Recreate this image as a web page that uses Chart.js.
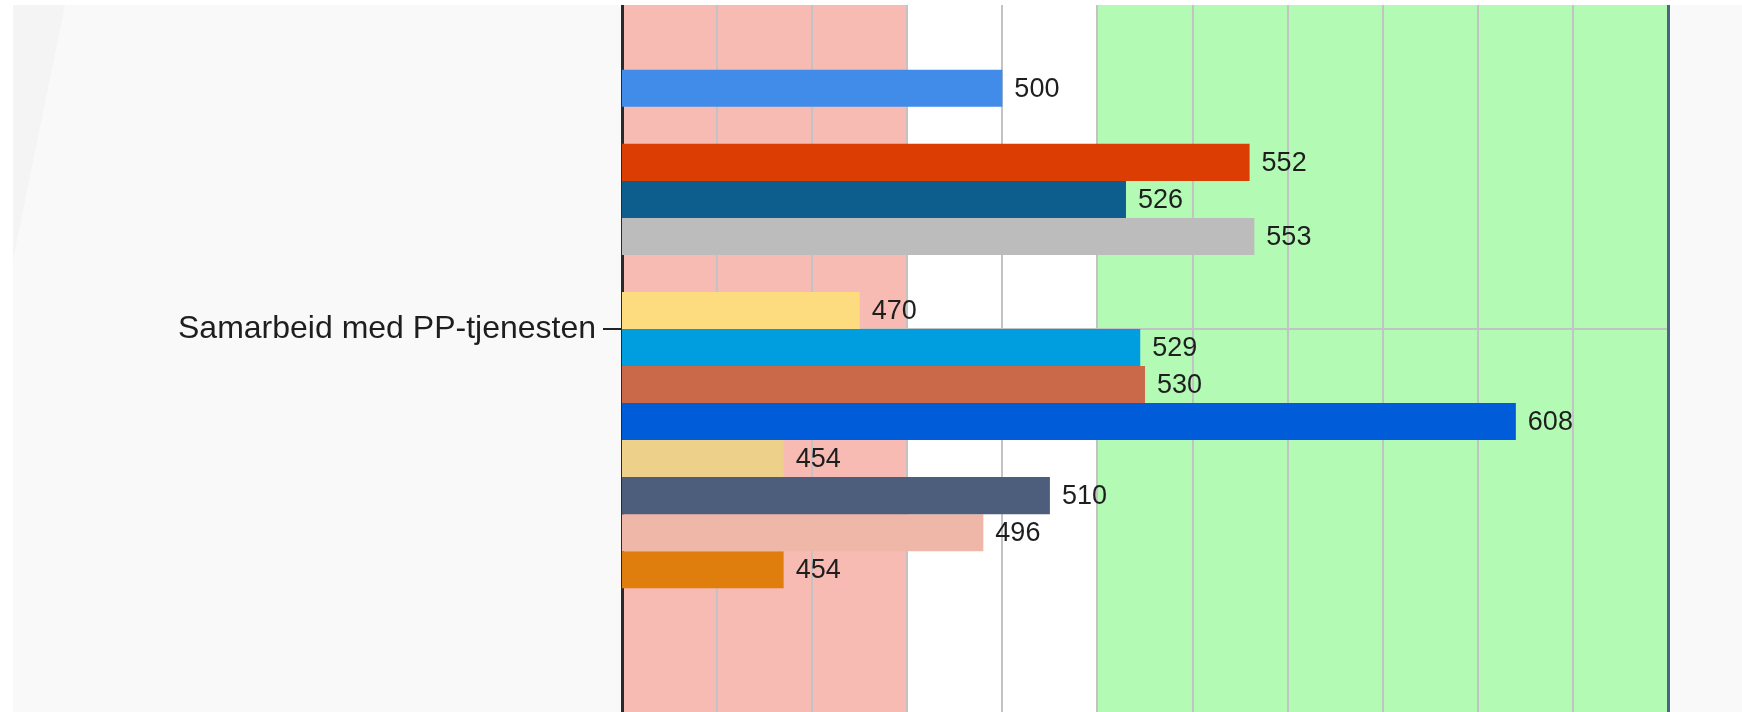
<!DOCTYPE html>
<html>
<head>
<meta charset="utf-8">
<script src="https://cdn.jsdelivr.net/npm/chart.js@4.4.1/dist/chart.umd.min.js"></script>
<style>
html, body { margin:0; padding:0; background:#ffffff; overflow:hidden; width:1742px; height:712px; }
#wrap { position:absolute; left:13px; top:5px; width:1729px; height:1296px; background:#f9f9f9; }
</style>
</head>
<body>
<div id="wrap"><canvas id="c"></canvas></div>
<script>
// ---- data ----
const categories = ['Samarbeid med PP-tjenesten', ''];
const seriesNames = ['Serie 1', 'Tom 1', 'Serie 2', 'Serie 3', 'Serie 4', 'Tom 2', 'Serie 5', 'Serie 6',
                     'Serie 7', 'Serie 8', 'Serie 9', 'Serie 10', 'Serie 11', 'Serie 12'];
const seriesValues = [500, null, 552, 526, 553, null, 470, 529, 530, 608, 454, 510, 496, 454];
const seriesColors = ['#418be9', '#000000', '#dc3d02', '#0e5e8d', '#bcbcbc', '#000000', '#fddc7f', '#009ddf',
                      '#c9694a', '#005cd9', '#edd08a', '#4d5e7d', '#eeb7a8', '#df7e0d'];
const xMin = 420, xMax = 640, xStep = 20;
const bandLimits = [420, 480, 520, 640];
const bandColors = ['#f8bbb3', '#ffffff', '#b3fbb5'];

const datasets = seriesNames.map((name, i) => ({
  label: name,
  data: categories.map((c, j) => j === 0 ? seriesValues[i] : null),
  backgroundColor: seriesColors[i],
  borderWidth: 0,
  barPercentage: 1.0,
  categoryPercentage: 0.8
}));

const bgPlugin = {
  id: 'bg',
  beforeDraw(chart) {
    const ctx = chart.ctx, a = chart.chartArea, x = chart.scales.x;
    ctx.save();
    // subtle diagonal shade in the panel
    ctx.fillStyle = '#f4f4f4';
    ctx.beginPath();
    ctx.moveTo(0, 0); ctx.lineTo(52, 0); ctx.lineTo(0, 255); ctx.closePath(); ctx.fill();
    for (let i = 0; i < bandColors.length; i++) {
      const x0 = x.getPixelForValue(bandLimits[i]);
      const x1 = x.getPixelForValue(bandLimits[i + 1]);
      ctx.fillStyle = bandColors[i];
      ctx.fillRect(x0, a.top, x1 - x0, a.bottom - a.top);
    }
    ctx.restore();
  },
  afterDatasetsDraw(chart) {
    const ctx = chart.ctx, a = chart.chartArea;
    ctx.save();
    // right frame line
    ctx.strokeStyle = '#4d6585';
    ctx.lineWidth = 3;
    ctx.beginPath();
    ctx.moveTo(a.right + 0.5, a.top); ctx.lineTo(a.right + 0.5, a.bottom); ctx.stroke();
    // value labels
    ctx.fillStyle = '#1e1e1e';
    ctx.font = '27px "Liberation Sans", Arial, sans-serif';
    ctx.textBaseline = 'middle';
    ctx.textAlign = 'left';
    chart.data.datasets.forEach((ds, di) => {
      const meta = chart.getDatasetMeta(di);
      meta.data.forEach((bar, j) => {
        const v = ds.data[j];
        if (v === null || v === undefined) return;
        ctx.fillText(String(v), bar.x + 12, bar.y + 1);
      });
    });
    ctx.restore();
  }
};

new Chart(document.getElementById('c'), {
  type: 'bar',
  data: { labels: categories, datasets },
  options: {
    indexAxis: 'y',
    responsive: true,
    maintainAspectRatio: false,
    animation: false,
    layout: { padding: { top: 0, bottom: 0, left: 0, right: 74 } },
    plugins: { legend: { display: false }, tooltip: { enabled: false } },
    scales: {
      x: {
        type: 'linear',
        min: xMin, max: xMax,
        ticks: { display: false, stepSize: xStep },
        grid: { color: '#c3c3c3', lineWidth: 2, drawTicks: false },
        border: { display: false }
      },
      y: {
        type: 'category',
        offset: true,
        afterFit(scale) { scale.width = 609; scale.paddingTop = 0; scale.paddingBottom = 0; },
        ticks: {
          color: '#1e1e1e',
          padding: 7,
          font: { family: '"Liberation Sans", Arial, sans-serif', size: 32 }
        },
        grid: { offset: false, color: '#c3c3c3', lineWidth: 2, tickLength: 19, tickColor: '#222222', tickWidth: 2 },
        border: { display: true, color: '#2a2a2a', width: 3 }
      }
    }
  },
  plugins: [bgPlugin]
});
</script>
</body>
</html>
